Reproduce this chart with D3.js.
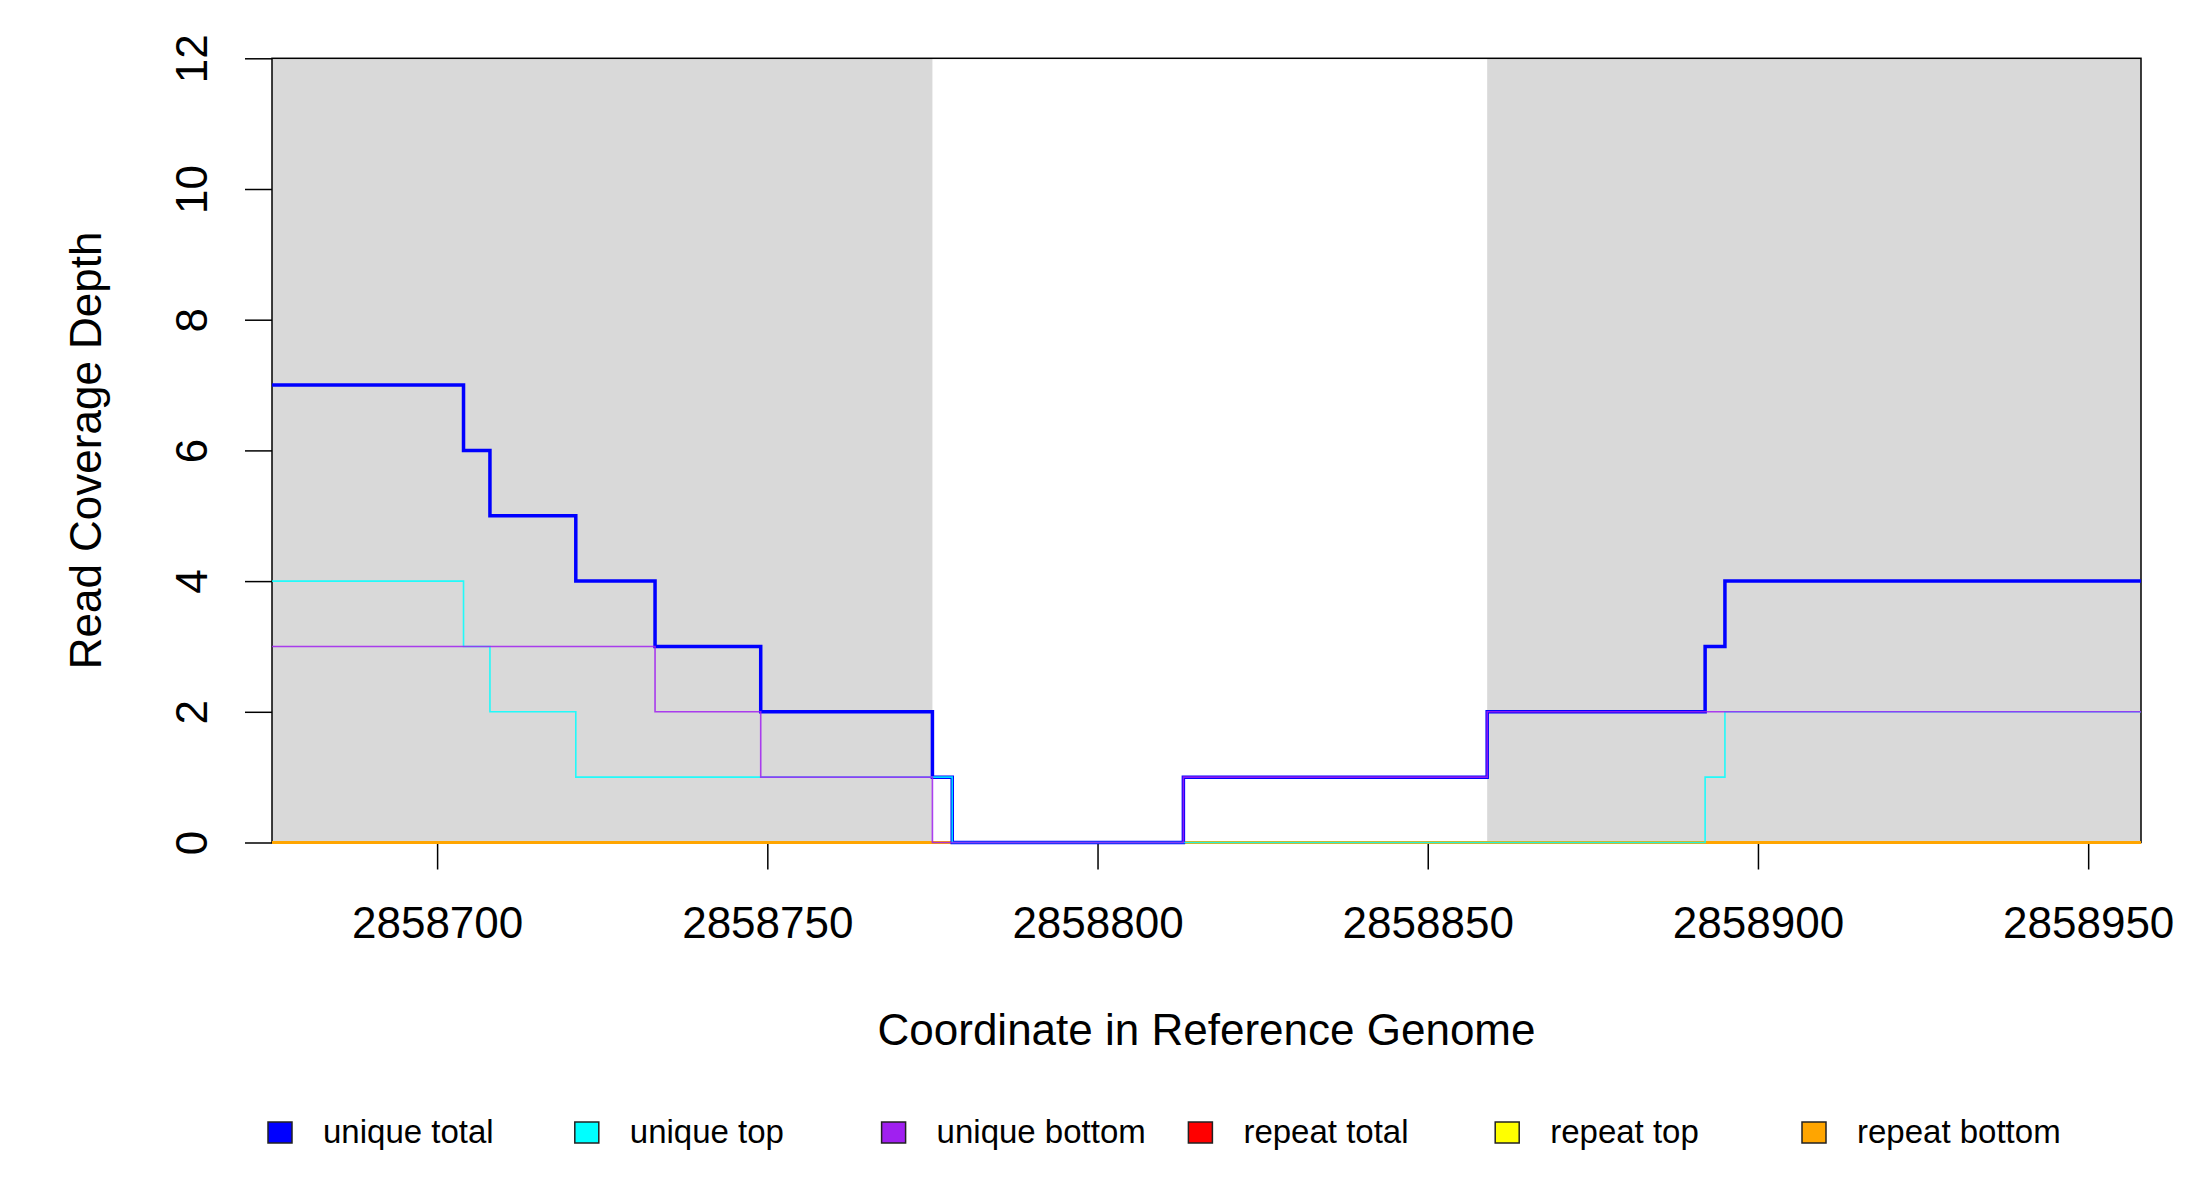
<!DOCTYPE html>
<html>
<head>
<meta charset="utf-8">
<script src="https://cdn.jsdelivr.net/npm/d3@7"></script>
<style>
  body { margin: 0; background: #fff; }
  text { font-family: "Liberation Sans", Arial, sans-serif; fill: #000; }
</style>
</head>
<body>
<div id="chart"></div>
<script>
// coverage depth, step after each break point
const breaks = [2858675, 2858704, 2858708, 2858721, 2858733, 2858749, 2858775,
                2858778, 2858813, 2858859, 2858892, 2858895, 2858958];
const uniqueTotal  = [7, 6, 5, 4, 3, 2, 1, 0, 1, 2, 3, 4, 4];
const uniqueTop    = [4, 3, 2, 1, 1, 1, 1, 0, 0, 0, 1, 2, 2];
const uniqueBottom = [3, 3, 3, 3, 2, 1, 0, 0, 1, 2, 2, 2, 2];
const repeatTotal  = [0, 0, 0, 0, 0, 0, 0, 0, 0, 0, 0, 0, 0];
const repeatTop    = [0, 0, 0, 0, 0, 0, 0, 0, 0, 0, 0, 0, 0];
const repeatBottom = [0, 0, 0, 0, 0, 0, 0, 0, 0, 0, 0, 0, 0];

// shaded regions (grey)
const regions = [[2858675, 2858775], [2858859, 2858958]];

const xTicks = [2858700, 2858750, 2858800, 2858850, 2858900, 2858950];
const yTicks = [0, 2, 4, 6, 8, 10, 12];

const legendLabels = ["unique total", "unique top", "unique bottom",
                      "repeat total", "repeat top", "repeat bottom"];
const legendColors = ["#0000ff", "#00ffff", "#a020f0",
                      "#ff0000", "#ffff00", "#ffa500"];

// layout
const W = 2200, H = 1200;
const margin = {top: 58.3, right: 59, bottom: 357.5, left: 272};
const w = W - margin.left - margin.right,
      h = H - margin.top - margin.bottom;

const svg = d3.select("#chart").append("svg")
  .attr("width", W).attr("height", H);

const g = svg.append("g")
  .attr("transform", "translate(" + margin.left + "," + margin.top + ")");

const xScale = d3.scaleLinear().domain([2858675, 2858958]).range([0, w]);
const yScale = d3.scaleLinear().domain([0, 12]).range([h, 0]);

// grey regions
g.selectAll("rect.region")
  .data(regions).enter().append("rect")
  .attr("class", "region")
  .attr("x", d => xScale(d[0]))
  .attr("width", d => xScale(d[1]) - xScale(d[0]))
  .attr("y", 0)
  .attr("height", h)
  .attr("fill", "#d9d9d9");

// box
g.append("rect")
  .attr("width", w).attr("height", h)
  .attr("fill", "none")
  .attr("stroke", "#000")
  .attr("stroke-width", 1.5);

// axes
let xAxis = g.append("g")
  .attr("transform", "translate(0," + h + ")")
  .call(d3.axisBottom(xScale).tickValues(xTicks).tickSize(27)
        .tickFormat(d3.format("d")));
xAxis.select(".domain").remove();
xAxis.selectAll("line").attr("stroke-width", 1.5);
xAxis.selectAll("text")
  .attr("y", 95).attr("dy", 0)
  .style("font-size", "44px");

let yAxis = g.append("g")
  .call(d3.axisLeft(yScale).tickValues(yTicks).tickSize(27));
yAxis.select(".domain").remove();
yAxis.selectAll("line").attr("stroke-width", 1.5);
yAxis.selectAll("text")
  .attr("transform", "rotate(-90)")
  .attr("x", 0).attr("y", -65).attr("dy", 0)
  .attr("text-anchor", "middle")
  .style("font-size", "44px");

// axis titles
svg.append("text")
  .attr("x", margin.left + w / 2).attr("y", 1045)
  .attr("text-anchor", "middle")
  .style("font-size", "44px")
  .text("Coordinate in Reference Genome");

svg.append("text")
  .attr("transform", "translate(101," + (margin.top + h / 2) + ") rotate(-90)")
  .attr("text-anchor", "middle")
  .style("font-size", "44px")
  .text("Read Coverage Depth");

// coverage lines, repeats first so unique sit on top
const line = d3.line()
  .x((d, i) => xScale(breaks[i]))
  .y(d => yScale(d))
  .curve(d3.curveStepAfter);

const series = [
  {vals: repeatTotal,  color: legendColors[3], lw: 3},
  {vals: repeatTop,    color: legendColors[4], lw: 3},
  {vals: repeatBottom, color: legendColors[5], lw: 3},
  {vals: uniqueTotal,  color: legendColors[0], lw: 3.5},
  {vals: uniqueTop,    color: legendColors[1], lw: 1.6},
  {vals: uniqueBottom, color: legendColors[2], lw: 1.6}
];

g.selectAll("path.cov")
  .data(series).enter().append("path")
  .attr("class", "cov")
  .attr("d", d => line(d.vals))
  .attr("fill", "none")
  .attr("stroke", d => d.color)
  .attr("stroke-width", d => d.lw)
  .attr("stroke-linejoin", "miter")
  .attr("stroke-opacity", d => d.lw < 2 ? 0.85 : 1);

// legend
const legX = d3.scaleBand().domain(legendLabels).range([268, 268 + 6 * 306.8]);

let leg = svg.append("g").selectAll("g")
  .data(legendLabels).enter().append("g")
  .attr("transform", d => "translate(" + legX(d) + ",1122)");

leg.append("rect")
  .attr("width", 24).attr("height", 21)
  .attr("fill", (d, i) => legendColors[i])
  .attr("stroke", "#222")
  .attr("stroke-width", 1.5);

leg.append("text")
  .attr("x", 55).attr("y", 21)
  .style("font-size", "33px")
  .text(d => d);
</script>
</body>
</html>
